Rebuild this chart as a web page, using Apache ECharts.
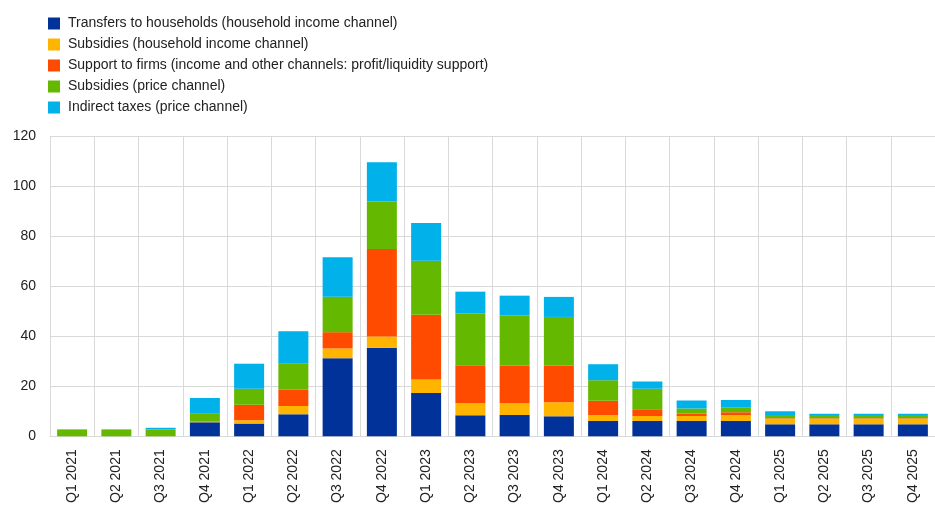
<!DOCTYPE html>
<html>
<head>
<meta charset="utf-8">
<script src="https://cdn.jsdelivr.net/npm/echarts@6/dist/echarts.min.js"></script>
<style>html,body{margin:0;padding:0;background:#fff}#c{width:935px;height:506px}</style>
</head>
<body>
<div id="c"></div>
<script>
const categories = ['Q1 2021','Q2 2021','Q3 2021','Q4 2021','Q1 2022','Q2 2022','Q3 2022','Q4 2022','Q1 2023','Q2 2023','Q3 2023','Q4 2023','Q1 2024','Q2 2024','Q3 2024','Q4 2024','Q1 2025','Q2 2025','Q3 2025','Q4 2025'];
const transfersHH = [0, 0, 0, 5.6, 5.1, 8.8, 31.2, 35.4, 17.3, 8.4, 8.5, 8.0, 6.1, 6.1, 6.1, 6.1, 4.8, 4.8, 4.8, 4.8];
const subsidiesHH = [0, 0, 0, 0.2, 1.3, 3.3, 3.9, 4.5, 5.4, 4.8, 4.7, 5.6, 2.4, 2.0, 2.0, 2.4, 2.2, 2.2, 2.2, 2.2];
const supportFirms = [0, 0, 0, 0.2, 6.2, 6.5, 6.5, 34.9, 25.9, 15.2, 15.0, 14.6, 5.7, 2.7, 1.0, 1.1, 0.2, 0.2, 0.2, 0.2];
const subsidiesPrice = [2.7, 2.7, 2.7, 3.0, 6.4, 10.6, 14.2, 19.0, 21.5, 20.8, 20.0, 19.5, 8.2, 8.2, 2.0, 2.0, 1.3, 1.3, 1.3, 1.3];
const indirectTaxes = [0.1, 0.1, 0.7, 6.3, 10.0, 12.8, 15.7, 15.7, 15.1, 8.6, 8.0, 8.0, 6.4, 2.9, 3.2, 2.9, 1.5, 0.5, 0.5, 0.5];
const seriesNames = ['Transfers to households (household income channel)','Subsidies (household income channel)','Support to firms (income and other channels: profit/liquidity support)','Subsidies (price channel)','Indirect taxes (price channel)'];
const colors = ['#003299','#FFB400','#FF4B00','#65B800','#00B1EA'];
const yTicks = [0, 20, 40, 60, 80, 100, 120];

const dataSets = [transfersHH, subsidiesHH, supportFirms, subsidiesPrice, indirectTaxes];
const chart = echarts.init(document.getElementById('c'), null, {renderer:'canvas'});
chart.setOption({
  animation: false,
  backgroundColor: '#fff',
  textStyle: {fontFamily: 'Liberation Sans, Arial, sans-serif'},
  legend: {
    orient: 'vertical', left: 43, top: 8,
    itemWidth: 12, itemHeight: 12, itemGap: 0,
    icon: 'rect',
    textStyle: {fontSize: 14, color: '#222', lineHeight: 21, padding: [0, 0, 0, 3], fontFamily: 'Liberation Sans, Arial, sans-serif'},
    data: seriesNames
  },
  grid: {left: 50, top: 136, width: 900, height: 301, containLabel: false},
  xAxis: {
    type: 'category', data: categories,
    axisLine: {show: true, lineStyle: {color: '#d9d9d9', width: 1}},
    axisTick: {show: false},
    splitLine: {show: true, interval: 0, lineStyle: {color: '#d9d9d9', width: 1}},
    axisLabel: {rotate: 90, interval: 0, fontSize: 14, color: '#222', margin: 13, fontFamily: 'Liberation Sans, Arial, sans-serif'}
  },
  yAxis: {
    type: 'value', min: yTicks[0], max: yTicks[yTicks.length-1], interval: 20,
    axisLine: {show: false}, axisTick: {show: false},
    splitLine: {lineStyle: {color: '#d9d9d9', width: 1}},
    axisLabel: {fontSize: 14, color: '#222', margin: 14, fontFamily: 'Liberation Sans, Arial, sans-serif'}
  },
  series: seriesNames.map((n, i) => ({
    name: n, type: 'bar', stack: 'total', data: dataSets[i],
    barWidth: 30,
    itemStyle: {color: colors[i]},
    emphasis: {disabled: true}
  }))
});
</script>
</body>
</html>
